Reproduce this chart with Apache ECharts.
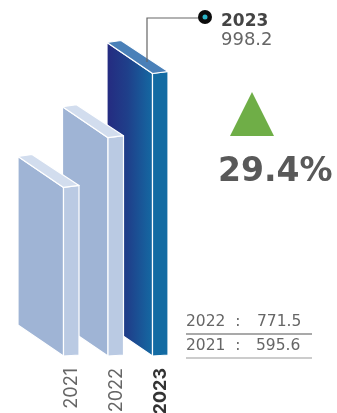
<!DOCTYPE html>
<html>
<head>
<meta charset="utf-8">
<style>html,body{margin:0;padding:0;background:#fff}#chart{width:337px;height:413px}</style>
<script src="https://cdn.jsdelivr.net/npm/echarts@6/dist/echarts.min.js"></script>
</head>
<body>
<div id="chart"></div>
<script>
const categories = ['2021', '2022', '2023'];
const values = [595.6, 771.5, 998.2];
const changeLabel = '29.4%';
const highlighted = '2023';

const FONT = '"DejaVu Sans", sans-serif';
const AXIS_FONT = 'Inter, sans-serif';
const chart = echarts.init(document.getElementById('chart'), null, { renderer: 'canvas' });

const pale = { front: '#9fb4d5', side: '#bacae3', top: '#d2ddee' };
const vivid = {
  front: new echarts.graphic.LinearGradient(0, 0, 1, 0, [
    { offset: 0, color: '#252a80' },
    { offset: 0.45, color: '#1f3f8a' },
    { offset: 1, color: '#146aa3' }
  ]),
  side: '#136ba3',
  top: '#4a80b8'
};

// Isometric slab: front face, side face and top face with thin white seams.
function renderSlab(params, api) {
  const idx = params.dataIndex;
  const [cx, topY] = api.coord([api.value(0), api.value(1)]);
  const [, baseY] = api.coord([api.value(0), 0]);
  const frontR = cx - 8.5, frontL = frontR - 45.5;
  const sideR = cx + 7;
  const drop = 31, lift = 2;
  const c = categories[idx] === highlighted ? vivid : pale;
  const seam = { stroke: '#fff', lineWidth: 1.2, lineJoin: 'round' };
  const z2 = 10 - idx * 3;
  const poly = (points, fill, z) => ({
    type: 'polygon', z2: z,
    shape: { points },
    style: Object.assign({ fill }, seam)
  });
  return {
    type: 'group',
    children: [
      poly([[frontL, topY - drop], [frontR, topY], [frontR, baseY], [frontL, baseY - drop]], c.front, z2),
      poly([[frontR, topY], [sideR, topY - lift], [sideR, baseY - lift + 1], [frontR, baseY]], c.side, z2 + 1),
      poly([[frontL, topY - drop], [frontL + 14, topY - drop - lift], [sideR, topY - lift], [frontR, topY]], c.top, z2 + 1)
    ]
  };
}

const text = (x, y, t, size, weight, fill, align) => ({
  type: 'text', x, y, z: 20,
  style: { text: t, font: `${weight} ${size}px ${FONT}`, fill, textAlign: align || 'left', textVerticalAlign: 'middle' }
});
const rule = (y, stroke) => ({
  type: 'line', z: 20,
  shape: { x1: 186, y1: y, x2: 312, y2: y },
  style: { stroke, lineWidth: 1.2 }
});

chart.setOption({
  animation: false,
  backgroundColor: '#fff',
  grid: { left: 49.75, width: 133.5, top: 73, height: 283, outerBoundsMode: 'none' },
  xAxis: {
    type: 'category',
    data: categories,
    axisLine: { show: false },
    axisTick: { show: false },
    axisLabel: {
      rotate: 90,
      margin: 12,
      fontFamily: AXIS_FONT,
      fontSize: 18,
      color: '#666',
      formatter: v => v === highlighted ? `{hi|${v}}` : v,
      rich: { hi: { fontFamily: AXIS_FONT, fontSize: 18, fontWeight: 'bold', color: '#333' } }
    }
  },
  yAxis: { type: 'value', min: 0, max: 1000, show: false },
  series: [{
    type: 'custom',
    clip: false,
    renderItem: renderSlab,
    encode: { x: 0, y: 1 },
    data: categories.map((c, i) => [c, values[i]])
  }],
  graphic: [
    // Leader from the highlighted slab to its callout
    { type: 'polyline', z: 20, shape: { points: [[147, 62], [147, 18], [200, 18]] }, style: { stroke: '#666', lineWidth: 1.2, fill: null } },
    { type: 'circle', z: 21, shape: { cx: 205, cy: 17, r: 7 }, style: { fill: '#0b0b0b' } },
    { type: 'circle', z: 22, shape: { cx: 205, cy: 17, r: 2.5 }, style: { fill: '#2bb5c8' } },
    text(221, 22, highlighted, 17, 'bold', '#444'),
    text(221, 40, String(values[2]), 18, 'normal', '#666'),
    // Growth indicator
    { type: 'polygon', z: 20, shape: { points: [[252, 92], [274, 136], [230, 136]] }, style: { fill: '#6fae47' } },
    text(218, 172, changeLabel, 33, 'bold', '#595959'),
    // Prior-year figures
    text(186, 322, `${categories[1]}  :`, 15.5, 'normal', '#666'),
    text(257, 322, String(values[1]), 15.5, 'normal', '#666'),
    rule(334, '#555'),
    text(186, 346, `${categories[0]}  :`, 15.5, 'normal', '#666'),
    text(256, 346, String(values[0]), 15.5, 'normal', '#666'),
    rule(358, '#999')
  ]
});
</script>
</body>
</html>
